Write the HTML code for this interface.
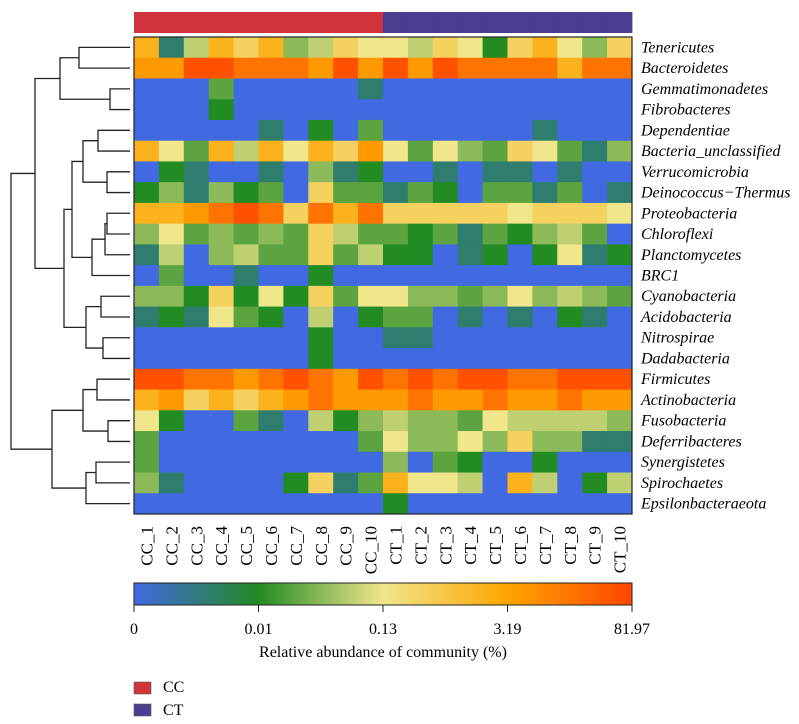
<!DOCTYPE html>
<html><head><meta charset="utf-8"><style>
html,body{margin:0;padding:0;background:#fff;}
svg{display:block;font-family:"Liberation Serif",serif;}
</style></head><body>
<svg id="chart" width="799" height="724" viewBox="0 0 799 724">
<defs>
<linearGradient id="cbar" x1="0" x2="1" y1="0" y2="0">
<stop offset="0" stop-color="rgb(65,105,225)"/><stop offset="0.25" stop-color="rgb(34,139,34)"/><stop offset="0.5" stop-color="rgb(240,230,140)"/><stop offset="0.75" stop-color="rgb(255,165,0)"/><stop offset="1" stop-color="rgb(255,69,0)"/>
</linearGradient>
</defs>
<g id="cells"></g>
<rect x="134" y="37" width="498" height="477" fill="none" stroke="#222" stroke-width="1.2"/>
<g id="topbar"></g>
<g id="rowlabels"></g>
<g id="collabels"></g>
<g id="dendro" stroke="#222" stroke-width="1.3" fill="none"></g>
<rect x="134" y="583" width="498" height="22" fill="url(#cbar)" stroke="#222" stroke-width="1"/>
<g id="cbticks"></g>
<text x="383" y="657" font-size="16" text-anchor="middle">Relative abundance of community (%)</text>
<rect x="134" y="682" width="17" height="12" fill="#d0343a" stroke="#555" stroke-width="0.6"/>
<text x="163" y="692" font-size="16">CC</text>
<rect x="134" y="704" width="17" height="12" fill="#4b3d8f" stroke="#555" stroke-width="0.6"/>
<text x="163" y="715" font-size="16">CT</text>
</svg>
<script>
const samples = ["CC_1","CC_2","CC_3","CC_4","CC_5","CC_6","CC_7","CC_8","CC_9","CC_10","CT_1","CT_2","CT_3","CT_4","CT_5","CT_6","CT_7","CT_8","CT_9","CT_10"];
const groups = ["CC","CC","CC","CC","CC","CC","CC","CC","CC","CC","CT","CT","CT","CT","CT","CT","CT","CT","CT","CT"];
const taxa = ["Tenericutes","Bacteroidetes","Gemmatimonadetes","Fibrobacteres","Dependentiae","Bacteria_unclassified","Verrucomicrobia","Deinococcus\u2212Thermus","Proteobacteria","Chloroflexi","Planctomycetes","BRC1","Cyanobacteria","Acidobacteria","Nitrospirae","Dadabacteria","Firmicutes","Actinobacteria","Fusobacteria","Deferribacteres","Synergistetes","Spirochaetes","Epsilonbacteraeota"];
// abundance level per cell (0 = lowest, 11 = highest on colour scale)
const levels = [
[8,1,5,8,7,8,4,5,7,6, 6,5,7,6,2,7,8,6,4,7],
[9,9,11,11,10,10,10,9,11,9, 11,9,11,10,10,10,10,8,10,10],
[0,0,0,3,0,0,0,0,0,1, 0,0,0,0,0,0,0,0,0,0],
[0,0,0,2,0,0,0,0,0,0, 0,0,0,0,0,0,0,0,0,0],
[0,0,0,0,0,1,0,2,0,3, 0,0,0,0,0,0,1,0,0,0],
[8,6,3,8,5,8,6,8,7,9, 6,3,6,4,3,7,6,3,1,4],
[0,2,1,0,0,1,0,4,1,2, 0,0,1,0,1,1,0,1,0,0],
[2,4,1,4,2,3,0,7,3,3, 1,3,2,0,3,3,1,3,0,1],
[8,8,9,10,11,10,7,10,8,10, 7,7,7,7,7,6,7,7,7,6],
[4,6,3,4,3,4,3,7,5,3, 3,2,3,1,3,2,4,5,3,0],
[1,5,0,4,5,3,3,7,3,5, 2,2,0,1,2,0,2,6,1,2],
[0,3,0,0,1,0,0,2,0,0, 0,0,0,0,0,0,0,0,0,0],
[4,4,2,7,2,6,2,7,3,6, 6,4,4,3,4,6,4,5,4,3],
[1,2,1,6,3,2,0,5,0,2, 3,3,0,1,0,1,0,2,1,0],
[0,0,0,0,0,0,0,2,0,0, 1,1,0,0,0,0,0,0,0,0],
[0,0,0,0,0,0,0,2,0,0, 0,0,0,0,0,0,0,0,0,0],
[11,11,10,10,9,10,11,10,9,11, 10,11,10,11,11,10,10,11,11,11],
[8,9,7,8,7,8,9,10,9,9, 9,10,9,9,10,9,9,10,9,9],
[6,2,0,0,3,1,0,5,2,4, 5,4,4,3,6,5,5,5,5,4],
[3,0,0,0,0,0,0,0,0,3, 6,4,4,6,4,7,4,4,1,1],
[3,0,0,0,0,0,0,0,0,0, 4,0,3,2,0,0,2,0,0,0],
[4,1,0,0,0,0,2,7,1,3, 8,6,6,5,0,8,5,0,2,5],
[0,0,0,0,0,0,0,0,0,0, 2,0,0,0,0,0,0,0,0,0]
];
const tickLabels = ["0","0.01","0.13","3.19","81.97"];

const NS="http://www.w3.org/2000/svg";
const X0=134,X1=632,Y0=37,Y1=514;
const cw=(X1-X0)/samples.length, rh=(Y1-Y0)/taxa.length;
const xPos=i=>X0+i*cw, yPos=r=>Y0+r*rh, yMid=r=>Y0+(r+0.5)*rh;
const levelPos=[0,0.15,0.25,0.32,0.38,0.44,0.5,0.58,0.7,0.78,0.88,0.97];
const stops=[[65,105,225],[34,139,34],[240,230,140],[255,165,0],[255,69,0]];
function colorScale(l){
  const p=levelPos[Math.max(0,Math.min(11,l))]*4;
  const i=Math.min(3,Math.floor(p)),f=p-i;
  const c=stops[i].map((v,k)=>Math.round(v+(stops[i+1][k]-v)*f));
  return `rgb(${c[0]},${c[1]},${c[2]})`;
}
function mk(tag,attrs,parent){const e=document.createElementNS(NS,tag);for(const k in attrs)e.setAttribute(k,attrs[k]);parent.appendChild(e);return e;}

const cells=document.getElementById('cells');
levels.forEach((row,r)=>row.forEach((v,c)=>{
  const e=mk('rect',{x:xPos(c),y:yPos(r),width:cw+0.4,height:rh+0.4,fill:colorScale(v)},cells);
  
  
}));

const tb=document.getElementById('topbar');
groups.forEach((g,c)=>{
  const e=mk('rect',{x:xPos(c),y:12,width:cw+0.4,height:21,fill:g==="CC"?"#d0343a":"#4b3d8f"},tb);
  
  
});

const rl=document.getElementById('rowlabels');
taxa.forEach((t,r)=>{
  const e=mk('text',{x:641,y:yMid(r)+5,'font-size':16,'font-style':'italic'},rl);
  e.textContent=t;
  
  
});

const cl=document.getElementById('collabels');
samples.forEach((s,c)=>{
  const x=xPos(c)+cw/2+6;
  const e=mk('text',{x:x,y:526,'font-size':17,'text-anchor':'end',transform:`rotate(-90 ${x} 526)`},cl);
  e.textContent=s;
  
  
});

// dendrogram: [id, x, left child, right child]; children are row indices or node ids
const nodes={};
function nodeY(ch){return typeof ch==="number"?yMid(ch):nodes[ch].y;}
function nodeX(ch){return typeof ch==="number"?X0-4:nodes[ch].x;}
const tree=[["A",79,0,1],["B",110,2,3],["C",60,"A","B"],["D",98,4,5],["E",107,6,7],["F",83,"D","E"],
["G",107,8,9],["H",105,"G",10],["I",92,"H",11],["J",72,"F","I"],["K",101,12,13],["L",103,14,15],["M",86,"K","L"],
["N",64,"J","M"],["O",35,"C","N"],["P",97,16,17],["Q",108,18,19],["R",83,"P","Q"],["S",96,20,21],["T",86,"S",22],
["U",52,"R","T"],["ROOT",11,"O","U"]];
const dg=document.getElementById('dendro');
tree.forEach(([id,x,a,b])=>{
  const ya=nodeY(a),yb=nodeY(b);
  nodes[id]={x:x,y:(ya+yb)/2};
  const e=mk('path',{d:`M${nodeX(a)},${ya}H${x}V${yb}H${nodeX(b)}`},dg);
  
  
});

const tk=document.getElementById('cbticks');
tickLabels.forEach((t,i)=>{
  const x=X0+i*(X1-X0)/(tickLabels.length-1);
  const l=mk('line',{x1:x,x2:x,y1:605,y2:612,stroke:'#222','stroke-width':1},tk);
  
  
  const e=mk('text',{x:x,y:634,'font-size':16,'text-anchor':'middle'},tk);
  e.textContent=t;
  
  
});
</script>
</body></html>
